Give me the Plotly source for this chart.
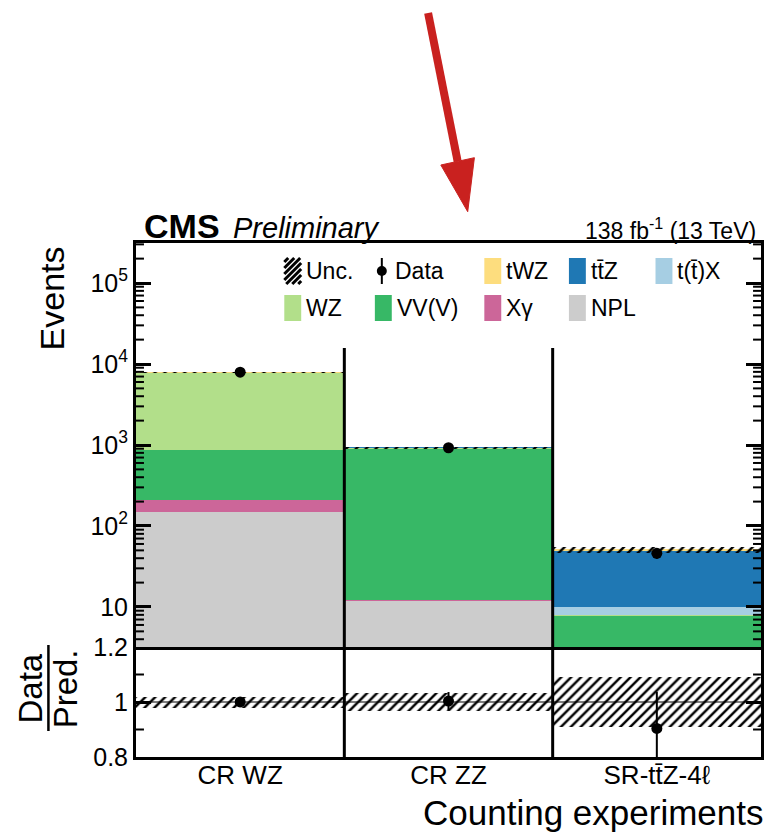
import numpy as np
import plotly.graph_objects as go

# ---------------------------------------------------------------- data
regions = ["CR WZ", "CR ZZ", "SR-tt\u0304Z-4\u2113"]

# expected yields per region (stack order: bottom -> top)
npl = [150.0, 12.0, 2.0]
xgamma = [60.0, 0.3, 0.1]
vvv = [655.0, 905.0, 5.8]
wz = [7000.0, 1.0, 0.1]
ttx = [10.0, 0.5, 2.1]
ttz = [40.0, 3.0, 39.3]
twz = [2.0, 0.2, 1.5]

# observed events and relative prediction uncertainty
data = [7920.0, 925.0, 46.0]
unc_rel = [0.02, 0.033, 0.09]

# axis tick labels
main_tickvals = [10, 100, 1000, 10000, 100000]
main_ticktext = ["10", "10<sup>2</sup>", "10<sup>3</sup>", "10<sup>4</sup>", "10<sup>5</sup>"]
ratio_tickvals = [0.8, 1.0, 1.2]
ratio_ticktext = ["0.8", "1", "1.2"]
ratio_minor = [0.9, 1.1]

# process names and colours
processes = [
    ("NPL", npl, "#CCCCCC"),
    ("X\u03b3", xgamma, "#CC6699"),
    ("VV(V)", vvv, "#37B866"),
    ("WZ", wz, "#B2DF8A"),
    ("t(t\u0304)X", ttx, "#A6CEE3"),
    ("tt\u0304Z", ttz, "#1F78B4"),
    ("tWZ", twz, "#FDDD7E"),
]
colors = {name: col for name, _, col in processes}

# ---------------------------------------------------------------- geometry
W, H = 768, 832
ML, MR, MT, MB = 136, 4, 243, 75
PW, PH = W - ML - MR, H - MT - MB
RATIO_FRAC = 110 / PH
FONT = "Liberation Sans, Arial, Helvetica, sans-serif"
MAIN_RANGE = [0.506, 5.494]      # log10 units
RATIO_RANGE = [0.8, 1.2]


def px_x(p):
    return (p - ML) / PW


def px_y(p):
    return (H - MB - p) / PH


xpos = np.arange(len(regions))
stack = np.array([vals for _, vals, _ in processes])
total = stack.sum(axis=0)
obs = np.array(data)
unc = np.array(unc_rel)

fig = go.Figure()

# stacked predictions
for name, vals, col in processes:
    fig.add_trace(go.Bar(
        x=xpos, y=vals, width=1.0, name=name,
        marker=dict(color=col, line=dict(width=0)),
        showlegend=False, xaxis="x", yaxis="y",
    ))

hatch = dict(shape="/", fgcolor="black", fgopacity=1, bgcolor="rgba(0,0,0,0)",
             size=7, solidity=0.35, fillmode="overlay")

# uncertainty band on the total prediction
fig.add_trace(go.Bar(
    x=xpos, base=total * (1 - unc), y=2 * unc * total, width=1.0,
    marker=dict(color="rgba(0,0,0,0)", line=dict(width=0), pattern=hatch),
    showlegend=False, xaxis="x", yaxis="y",
))

# observed data
fig.add_trace(go.Scatter(
    x=xpos, y=obs, mode="markers",
    marker=dict(color="black", size=11),
    error_y=dict(type="data", array=np.sqrt(obs), color="black", thickness=2, width=0),
    showlegend=False, xaxis="x", yaxis="y",
))

# ratio panel
fig.add_trace(go.Bar(
    x=xpos, base=1 - unc, y=2 * unc, width=1.0,
    marker=dict(color="rgba(0,0,0,0)", line=dict(width=0), pattern=hatch),
    showlegend=False, xaxis="x2", yaxis="y2",
))
fig.add_trace(go.Scatter(
    x=xpos, y=obs / total, mode="markers",
    marker=dict(color="black", size=11),
    error_y=dict(type="data", array=np.sqrt(obs) / total, color="black", thickness=2, width=0),
    showlegend=False, xaxis="x2", yaxis="y2",
))

axis_common = dict(showline=True, linecolor="black", linewidth=3, showgrid=False,
                   zeroline=False)

fig.update_layout(
    width=W, height=H,
    margin=dict(l=ML, r=MR, t=MT, b=MB),
    paper_bgcolor="white", plot_bgcolor="white",
    barmode="stack", bargap=0,
    font=dict(family=FONT, color="black"),
    xaxis=dict(domain=[0, 1], anchor="y", range=[-0.5, 2.5], showticklabels=False,
               ticks="", mirror=True, **axis_common),
    xaxis2=dict(domain=[0, 1], anchor="y2", matches="x", range=[-0.5, 2.5],
                tickmode="array", tickvals=xpos, ticktext=regions, ticks="",
                tickfont=dict(size=26), ticklabelstandoff=-7, mirror=False, **axis_common),
    yaxis=dict(domain=[RATIO_FRAC, 1], anchor="x", type="log", range=MAIN_RANGE,
               tickmode="array", tickvals=main_tickvals, ticktext=main_ticktext,
               ticks="inside", ticklen=15, tickwidth=2.5, tickcolor="black", mirror="allticks",
               tickfont=dict(size=25), **axis_common),
    yaxis2=dict(domain=[0, RATIO_FRAC], anchor="x2", range=RATIO_RANGE,
                tickmode="array", tickvals=ratio_tickvals, ticktext=ratio_ticktext,
                ticks="inside", ticklen=15, tickwidth=2.5, tickcolor="black", mirror="allticks",
                tickfont=dict(size=25), **axis_common),
)

shapes = []

# minor tick marks on both sides of each panel
MINOR_LEN = 8 / PW
minor_main = [k * 10.0 ** n for n in range(0, 6) for k in range(2, 10)]
minor_sets = [
    ("x domain", "y domain",
     [(np.log10(v) - MAIN_RANGE[0]) / (MAIN_RANGE[1] - MAIN_RANGE[0]) for v in minor_main]),
    ("x2 domain", "y2 domain",
     [(v - RATIO_RANGE[0]) / (RATIO_RANGE[1] - RATIO_RANGE[0]) for v in ratio_minor]),
]
for xref, yref, fracs in minor_sets:
    for f in fracs:
        if not 0 < f < 1:
            continue
        for xa, xb in [(0, MINOR_LEN), (1 - MINOR_LEN, 1)]:
            shapes.append(dict(type="line", xref=xref, yref=yref, x0=xa, x1=xb, y0=f, y1=f,
                               line=dict(color="black", width=2), layer="above"))

# region separators
for xb in [0.5, 1.5]:
    shapes.append(dict(type="line", xref="x", yref="y domain", x0=xb, x1=xb, y0=0, y1=0.74,
                       line=dict(color="black", width=3), layer="above"))
    shapes.append(dict(type="line", xref="x2", yref="y2 domain", x0=xb, x1=xb, y0=0, y1=1,
                       line=dict(color="black", width=3), layer="above"))
# unity line in the ratio
shapes.append(dict(type="line", xref="x2 domain", yref="y2", x0=0, x1=1, y0=1, y1=1,
                   line=dict(color="black", width=1), layer="above"))

# ---------------------------------------------------------------- legend (two rows)
row_y = [271, 308]
box_w, box_h = 17, 26
legend_rows = [
    [("unc", 285, "Unc."), ("data", 383, "Data"), ("tWZ", 486, "tWZ"),
     ("tt\u0304Z", 571, "tt\u0304Z"), ("t(t\u0304)X", 658, "t(t\u0304)X")],
    [("WZ", 285, "WZ"), ("VV(V)", 376, "VV(V)"), ("X\u03b3", 486, "X\u03b3"),
     ("NPL", 571, "NPL")],
]
annotations = []
for r, entries in enumerate(legend_rows):
    yc = row_y[r]
    y0, y1 = yc - box_h / 2, yc + box_h / 2
    for key, x0, label in entries:
        if key == "unc":
            x1 = x0 + box_w
            for c in np.arange(x0 + y0 + 4, x1 + y1, 6):
                xs, xe = max(x0, c - y1), min(x1, c - y0)
                if xe > xs:
                    shapes.append(dict(type="line", xref="paper", yref="paper",
                                       x0=px_x(xs), y0=px_y(c - xs), x1=px_x(xe), y1=px_y(c - xe),
                                       line=dict(color="black", width=3)))
            tx = x1 + 3
        elif key == "data":
            shapes.append(dict(type="line", xref="paper", yref="paper",
                               x0=px_x(x0), x1=px_x(x0), y0=px_y(y0), y1=px_y(y1),
                               line=dict(color="black", width=2)))
            shapes.append(dict(type="circle", xref="paper", yref="paper",
                               x0=px_x(x0 - 5), x1=px_x(x0 + 5), y0=px_y(yc - 5), y1=px_y(yc + 5),
                               fillcolor="black", line=dict(color="black", width=0)))
            tx = x0 + 11
        else:
            x1 = x0 + box_w
            shapes.append(dict(type="rect", xref="paper", yref="paper",
                               x0=px_x(x0), x1=px_x(x1), y0=px_y(y0), y1=px_y(y1),
                               fillcolor=colors[key], line=dict(width=0)))
            tx = x1 + 3
        annotations.append(dict(text=label, xref="paper", yref="paper", x=px_x(tx), y=px_y(yc),
                                xanchor="left", yanchor="middle", showarrow=False,
                                font=dict(size=23)))

# ---------------------------------------------------------------- labels
annotations += [
    dict(text="<b>CMS</b>", x=px_x(142), y=px_y(226), xanchor="left", yanchor="middle",
         font=dict(size=34)),
    dict(text="<i>Preliminary</i>", x=px_x(231), y=px_y(228), xanchor="left", yanchor="middle",
         font=dict(size=29)),
    dict(text="138 fb<sup>-1</sup> (13 TeV)", x=px_x(761), y=px_y(229), xanchor="right",
         yanchor="middle", font=dict(size=23)),
    dict(text="Events", x=px_x(52), y=px_y(298), xanchor="center", yanchor="middle",
         textangle=-90, font=dict(size=34)),
    dict(text="Data", x=px_x(29), y=px_y(689), xanchor="center", yanchor="middle",
         textangle=-90, font=dict(size=33)),
    dict(text="Pred.", x=px_x(65), y=px_y(689), xanchor="center", yanchor="middle",
         textangle=-90, font=dict(size=33)),
    dict(text="Counting experiments", x=px_x(768), y=px_y(812), xanchor="right",
         yanchor="middle", font=dict(size=35)),
]
for a in annotations:
    a.setdefault("xref", "paper")
    a.setdefault("yref", "paper")
    a["showarrow"] = False

# fraction bar of the ratio title
shapes.append(dict(type="line", xref="paper", yref="paper", x0=px_x(48), x1=px_x(48),
                   y0=px_y(645), y1=px_y(731), line=dict(color="black", width=2.5)))

# red pointer arrow above the plot
red = "#C9211F"
tail, neck, tip = (429.5, 13), (459.2, 161.4), (469.3, 211.7)
head_l, head_r = (442.3, 165.0), (476.0, 157.7)
shapes.append(dict(type="line", xref="paper", yref="paper",
                   x0=px_x(tail[0]), y0=px_y(tail[1]), x1=px_x(neck[0]), y1=px_y(neck[1]),
                   line=dict(color=red, width=8), layer="above"))
path = "M {},{} L {},{} L {},{} Z".format(
    px_x(head_l[0]), px_y(head_l[1]), px_x(head_r[0]), px_y(head_r[1]),
    px_x(tip[0]), px_y(tip[1]))
shapes.append(dict(type="path", xref="paper", yref="paper", path=path,
                   fillcolor=red, line=dict(color=red, width=1), layer="above"))

fig.update_layout(shapes=shapes, annotations=annotations)

fig.write_html("out.html")
